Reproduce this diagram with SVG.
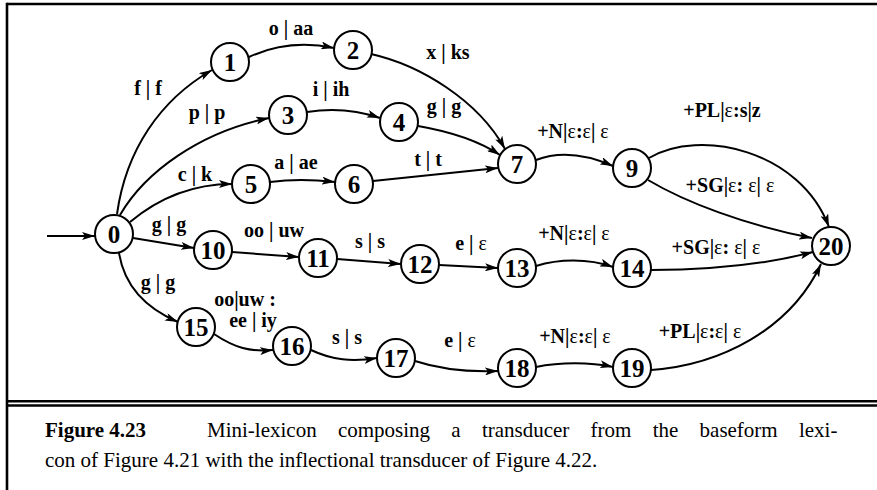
<svg xmlns="http://www.w3.org/2000/svg" width="877" height="490" viewBox="0 0 877 490">
<style>
.frame{stroke:#000;stroke-width:2.6;fill:none}
.nd circle{fill:#fff;stroke:#000;stroke-width:2}
.nd text{font-family:"Liberation Serif","Times New Roman",serif;font-weight:bold;font-size:25px;text-anchor:middle;fill:#000}
.e{fill:none;stroke:#000;stroke-width:2;marker-end:url(#ah)}
.lb{font-family:"Liberation Serif","Times New Roman",serif;font-weight:bold;font-size:20px;text-anchor:middle;fill:#000}
.lb .g{font-weight:normal}
.cap{font-family:"Liberation Serif","Times New Roman",serif;font-size:21px;fill:#000}
</style>
<defs>
<marker id="ah" markerUnits="userSpaceOnUse" markerWidth="14" markerHeight="8" refX="13" refY="4" orient="auto">
<path d="M0,0 L13,4 L0,8 L3,4 Z" fill="#000"/>
</marker>
</defs>
<rect width="877" height="490" fill="#fff"/>
<g id="frame">
<line class="frame" x1="7" y1="4" x2="877" y2="4"/>
<line class="frame" x1="7" y1="2.7" x2="7" y2="490"/>
<line class="frame" x1="7" y1="401.3" x2="877" y2="401.3"/>
<line class="frame" x1="7" y1="405.5" x2="877" y2="405.5"/>
</g>
<g id="connectors">
<path class="e" d="M47,236 L95,236"/>
<path class="e" d="M117,214 C126,150 160,100 212,70"/>
<path class="e" d="M120,215 C145,172 200,132 269,118"/>
<path class="e" d="M130,222 C160,197 195,184 232,184"/>
<path class="e" d="M133,238 L194,248"/>
<path class="e" d="M119,253 C125,290 150,310 178,322"/>
<path class="e" d="M249,57 C275,45 305,42 334,48"/>
<path class="e" d="M307,112 Q345,106 380,118"/>
<path class="e" d="M270,182 Q300,178 335,182"/>
<path class="e" d="M371,54 C420,65 478,100 505,149"/>
<path class="e" d="M418,126 Q470,135 500,155"/>
<path class="e" d="M373,181 L498,168"/>
<path class="e" d="M536,160 C562,150 590,156 613,166"/>
<path class="e" d="M649,158 C700,128 800,150 829,227"/>
<path class="e" d="M648,180 C685,202 745,225 812,238"/>
<path class="e" d="M232,252 L299,257"/>
<path class="e" d="M337,259 L401,264"/>
<path class="e" d="M439,265 L498,268"/>
<path class="e" d="M536,266 C558,259 588,258 613,267"/>
<path class="e" d="M651,270 C720,270 775,262 813,252"/>
<path class="e" d="M214,334 C235,348 250,352 273,350"/>
<path class="e" d="M311,350 C332,360 352,362 377,358"/>
<path class="e" d="M415,361 C442,370 470,372 498,371"/>
<path class="e" d="M536,367 C560,362 590,362 613,367"/>
<path class="e" d="M651,370 C720,365 790,330 821,264"/>
</g>
<g id="labels">
<text class="lb" x="148" y="95">f | f</text>
<text class="lb" x="291" y="35">o | aa</text>
<text class="lb" x="448" y="59">x | ks</text>
<text class="lb" x="207" y="119">p | p</text>
<text class="lb" x="331" y="96">i | ih</text>
<text class="lb" x="444" y="113">g | g</text>
<text class="lb" x="195" y="181">c | k</text>
<text class="lb" x="296" y="169">a | ae</text>
<text class="lb" x="428" y="166">t | t</text>
<text class="lb" x="573" y="138">+N|<tspan class="g">ε</tspan>:<tspan class="g">ε</tspan>| <tspan class="g">ε</tspan></text>
<text class="lb" x="722" y="117">+PL|<tspan class="g">ε</tspan>:s|z</text>
<text class="lb" x="730" y="192">+SG|<tspan class="g">ε</tspan>: <tspan class="g">ε</tspan>| <tspan class="g">ε</tspan></text>
<text class="lb" x="169" y="231">g | g</text>
<text class="lb" x="274" y="237">oo | uw</text>
<text class="lb" x="370" y="248">s | s</text>
<text class="lb" x="471" y="250">e | <tspan class="g">ε</tspan></text>
<text class="lb" x="574" y="240">+N|<tspan class="g">ε</tspan>:<tspan class="g">ε</tspan>| <tspan class="g">ε</tspan></text>
<text class="lb" x="716" y="254">+SG|<tspan class="g">ε</tspan>: <tspan class="g">ε</tspan>| <tspan class="g">ε</tspan></text>
<text class="lb" x="158" y="289">g | g</text>
<text class="lb" x="245" y="306">oo|uw :</text>
<text class="lb" x="253" y="327">ee | iy</text>
<text class="lb" x="347" y="344">s | s</text>
<text class="lb" x="460" y="347">e | <tspan class="g">ε</tspan></text>
<text class="lb" x="575" y="343">+N|<tspan class="g">ε</tspan>:<tspan class="g">ε</tspan>| <tspan class="g">ε</tspan></text>
<text class="lb" x="700" y="338">+PL|<tspan class="g">ε</tspan>:<tspan class="g">ε</tspan>| <tspan class="g">ε</tspan></text>
</g>
<g id="n0" class="nd"><circle cx="114" cy="234" r="19"/><text x="114" y="242.5">0</text></g>
<g id="n1" class="nd"><circle cx="230" cy="62" r="19"/><text x="230" y="70.5">1</text></g>
<g id="n2" class="nd"><circle cx="353" cy="50" r="19"/><text x="353" y="58.5">2</text></g>
<g id="n3" class="nd"><circle cx="288" cy="115" r="19"/><text x="288" y="123.5">3</text></g>
<g id="n4" class="nd"><circle cx="399" cy="122" r="19"/><text x="399" y="130.5">4</text></g>
<g id="n5" class="nd"><circle cx="251" cy="184" r="19"/><text x="251" y="192.5">5</text></g>
<g id="n6" class="nd"><circle cx="354" cy="184" r="19"/><text x="354" y="192.5">6</text></g>
<g id="n7" class="nd"><circle cx="517" cy="164" r="19"/><text x="517" y="172.5">7</text></g>
<g id="n9" class="nd"><circle cx="632" cy="168" r="19"/><text x="632" y="176.5">9</text></g>
<g id="n10" class="nd"><circle cx="213" cy="250" r="19"/><text x="213" y="258.5">10</text></g>
<g id="n11" class="nd"><circle cx="318" cy="258" r="19"/><text x="318" y="266.5">11</text></g>
<g id="n12" class="nd"><circle cx="420" cy="264" r="19"/><text x="420" y="272.5">12</text></g>
<g id="n13" class="nd"><circle cx="517" cy="268" r="19"/><text x="517" y="276.5">13</text></g>
<g id="n14" class="nd"><circle cx="632" cy="268" r="19"/><text x="632" y="276.5">14</text></g>
<g id="n15" class="nd"><circle cx="196" cy="327" r="19"/><text x="196" y="335.5">15</text></g>
<g id="n16" class="nd"><circle cx="292" cy="346" r="19"/><text x="292" y="354.5">16</text></g>
<g id="n17" class="nd"><circle cx="396" cy="358" r="19"/><text x="396" y="366.5">17</text></g>
<g id="n18" class="nd"><circle cx="517" cy="368" r="19"/><text x="517" y="376.5">18</text></g>
<g id="n19" class="nd"><circle cx="632" cy="368" r="19"/><text x="632" y="376.5">19</text></g>
<g id="n20" class="nd"><circle cx="831" cy="246" r="19"/><text x="831" y="254.5">20</text></g>
<g id="caption">
<text class="cap" x="45" y="437" font-weight="bold">Figure 4.23</text>
<text class="cap" x="207" y="437" word-spacing="16">Mini-lexicon composing a transducer from the baseform lexi-</text>
<text class="cap" x="45" y="467">con of Figure 4.21 with the inflectional transducer of Figure 4.22.</text>
</g>
</svg>
